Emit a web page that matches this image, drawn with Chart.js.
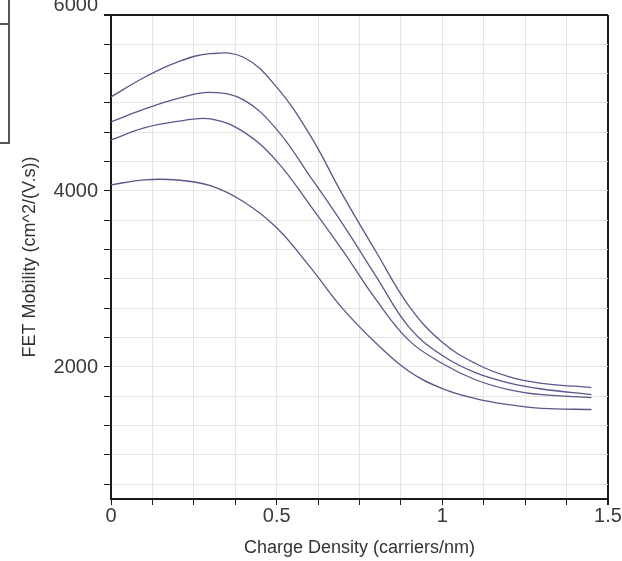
<!DOCTYPE html>
<html>
<head>
<meta charset="utf-8">
<script src="https://cdn.jsdelivr.net/npm/chart.js@4.4.1/dist/chart.umd.min.js"></script>
<style>
  html, body { margin: 0; padding: 0; background: #fff; }
  #wrap { position: relative; width: 622px; height: 561px; overflow: hidden; }
  .panel { position: absolute; border: 2px solid #555; background: #fff; }
</style>
</head>
<body>
<div id="wrap">
  <canvas id="mobility-chart"></canvas>
  <div class="panel" style="left:-20px; top:-20px; width:26px; height:41px;"></div>
  <div class="panel" style="left:-20px; top:23px; width:26px; height:117px;"></div>
</div>
<script>
// charge density (carriers/nm), shared by every curve
const density = [0, 0.1, 0.2, 0.3, 0.4, 0.5, 0.6, 0.7, 0.8, 0.9, 1.0, 1.1, 1.2, 1.3, 1.45];

// FET mobility, cm^2/(V.s), one array per curve (top to bottom)
const mobility1 = [5070, 5290, 5465, 5560, 5520, 5180, 4640, 3950, 3310, 2690, 2280, 2040, 1890, 1815, 1766];
const mobility2 = [4785, 4930, 5050, 5120, 5035, 4700, 4170, 3620, 3030, 2450, 2130, 1935, 1820, 1750, 1687];
const mobility3 = [4580, 4717, 4790, 4820, 4672, 4340, 3843, 3320, 2765, 2300, 2040, 1855, 1743, 1685, 1653];
const mobility4 = [4070, 4127, 4125, 4060, 3877, 3582, 3140, 2660, 2270, 1948, 1755, 1641, 1573, 1530, 1517];

const xTickLabels = [0, 0.5, 1, 1.5];
const yTickLabels = [2000, 4000, 6000];

const X_MIN = 0, X_MAX = 1.5, X_STEP = 0.125;
const Y_MIN = 500, Y_MAX = 6000, Y_STEP = 2000 / 6;

const LINE = "#58588c";
const GRID = "#e4e4e4";
const AXIS = "#1a1a1a";
const FONT = "'Liberation Sans', Arial, sans-serif";

const near = (a, b) => Math.abs(a - b) < 1e-6;

function toPoints(ys) {
  return density.map((x, i) => ({ x, y: ys[i] }));
}

function labelFrom(list, topValue) {
  return (value) => {
    const hit = list.find((v) => near(v, value));
    if (hit === undefined) return "";
    // the top label sits raised above its tick
    return near(hit, topValue) ? [String(hit), ""] : String(hit);
  };
}

const series = [mobility1, mobility2, mobility3, mobility4].map((ys) => ({
  data: toPoints(ys),
  borderColor: LINE,
  borderWidth: 1.3,
  pointRadius: 0,
  fill: false,
  tension: 0.4,
}));

new Chart(document.getElementById("mobility-chart"), {
  type: "line",
  data: { datasets: series },
  options: {
    responsive: true,
    maintainAspectRatio: false,
    animation: false,
    layout: { padding: { left: 0, top: 15, right: 14, bottom: 0 } },
    plugins: { legend: { display: false }, tooltip: { enabled: false } },
    scales: {
      x: {
        type: "linear",
        min: X_MIN,
        max: X_MAX,
        afterBuildTicks: (scale) => {
          const ticks = [];
          for (let v = X_MIN; v <= X_MAX + 1e-9; v += X_STEP) ticks.push({ value: v });
          scale.ticks = ticks;
        },
        afterFit: (scale) => {
          scale.height = 62;
          scale.paddingLeft = 0;
          scale.paddingRight = 0;
        },
        ticks: {
          autoSkip: false,
          maxRotation: 0,
          padding: -1,
          color: "#3a3a3a",
          font: { family: FONT, size: 20 },
          callback: labelFrom(xTickLabels, null),
        },
        grid: {
          color: (ctx) => (ctx.tick && near(ctx.tick.value, X_MAX) ? AXIS : GRID),
          lineWidth: (ctx) => (ctx.tick && near(ctx.tick.value, X_MAX) ? 2 : 1),
          tickColor: AXIS,
          tickLength: 6,
        },
        border: { color: AXIS, width: 2 },
        title: {
          display: true,
          text: "Charge Density (carriers/nm)",
          color: "#333",
          font: { family: FONT, size: 18 },
          padding: { top: 0, bottom: 2 },
        },
      },
      y: {
        type: "linear",
        min: Y_MIN,
        max: Y_MAX,
        afterBuildTicks: (scale) => {
          const ticks = [];
          for (let v = Y_MAX; v > Y_MIN + 1; v -= Y_STEP) ticks.unshift({ value: v });
          scale.ticks = ticks;
        },
        afterFit: (scale) => {
          scale.width = 111;
          scale.paddingTop = 0;
          scale.paddingBottom = 0;
        },
        ticks: {
          autoSkip: false,
          padding: 6,
          color: "#3a3a3a",
          font: { family: FONT, size: 20, lineHeight: 1.0 },
          callback: labelFrom(yTickLabels, Y_MAX),
        },
        grid: {
          color: (ctx) => (ctx.tick && near(ctx.tick.value, Y_MAX) ? AXIS : GRID),
          lineWidth: (ctx) => (ctx.tick && near(ctx.tick.value, Y_MAX) ? 2 : 1),
          tickColor: AXIS,
          tickLength: 7,
        },
        border: { color: AXIS, width: 2 },
        title: {
          display: true,
          text: "FET Mobility (cm^2/(V.s))",
          color: "#333",
          font: { family: FONT, size: 18 },
          padding: { top: 19, bottom: 0 },
        },
      },
    },
  },
});
</script>
</body>
</html>
